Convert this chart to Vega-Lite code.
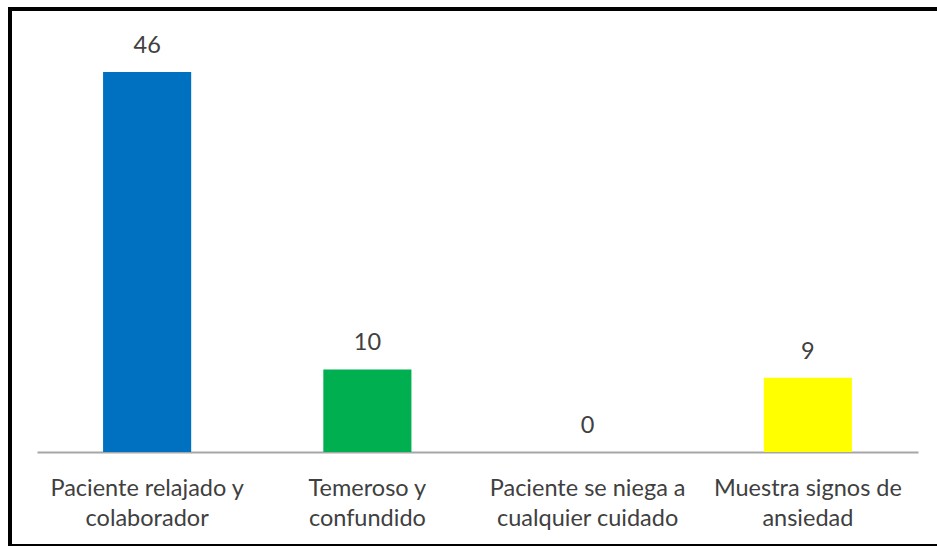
{
  "$schema": "https://vega.github.io/schema/vega-lite/v6.json",
  "autosize": "none",
  "padding": {"left": 10, "top": 9, "right": 0, "bottom": 0},
  "width": 2000,
  "height": 537,
  "background": "white",
  "config": {
    "view": {"stroke": "black", "strokeWidth": 4},
    "font": "Lato"
  },
  "data": {
    "values": [
      {"categoria": "Paciente relajado y colaborador", "valor": 46, "color": "#0070C0"},
      {"categoria": "Temeroso y confundido", "valor": 10, "color": "#00B050"},
      {"categoria": "Paciente se niega a cualquier cuidado", "valor": 0, "color": "#FFFFFF"},
      {"categoria": "Muestra signos de ansiedad", "valor": 9, "color": "#FFFF00"}
    ]
  },
  "encoding": {
    "x": {
      "field": "categoria",
      "type": "nominal",
      "sort": null,
      "scale": {"range": [27, 908], "paddingInner": 0.6, "paddingOuter": 0.3},
      "axis": {
        "title": null,
        "labelAngle": 0,
        "ticks": false,
        "offset": -94,
        "domainColor": "#A6A6A6",
        "domainWidth": 2,
        "labelFont": "Lato",
        "labelFontSize": 23.5,
        "labelColor": "#404040",
        "labelPadding": 24,
        "labelLineHeight": 30,
        "labelBaseline": "top",
        "labelLimit": 400,
        "labelExpr": "datum.value == 'Paciente relajado y colaborador' ? ['Paciente relajado y', 'colaborador'] : datum.value == 'Temeroso y confundido' ? ['Temeroso y', 'confundido'] : datum.value == 'Paciente se niega a cualquier cuidado' ? ['Paciente se niega a', 'cualquier cuidado'] : ['Muestra signos de', 'ansiedad']"
      }
    },
    "y": {
      "field": "valor",
      "type": "quantitative",
      "scale": {"domain": [0, 50], "range": [443, 30], "nice": false},
      "axis": null
    }
  },
  "layer": [
    {
      "mark": {"type": "bar"},
      "encoding": {
        "color": {"field": "color", "type": "nominal", "scale": null}
      }
    },
    {
      "mark": {"type": "text", "baseline": "alphabetic", "dy": -19, "fontSize": 23.5, "color": "#404040", "font": "Lato"},
      "encoding": {
        "text": {"field": "valor", "type": "quantitative"}
      }
    }
  ]
}
